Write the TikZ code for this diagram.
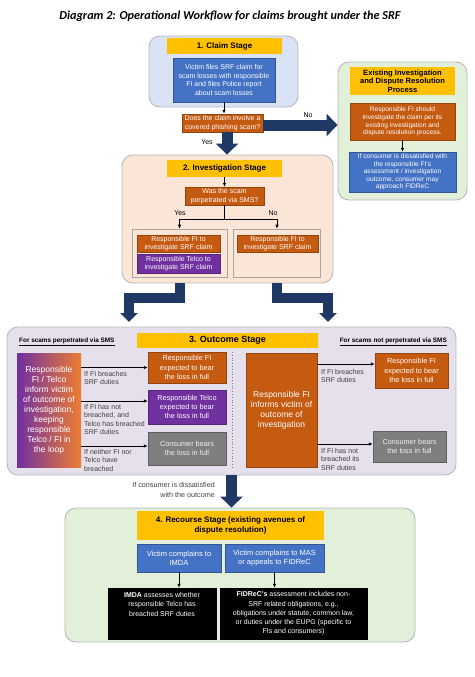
\documentclass[tikz,border=0pt]{standalone}
\usepackage{fontspec}
\setmainfont{Liberation Sans}
\newfontfamily\titlefont{Carlito}
\usetikzlibrary{arrows.meta}

\definecolor{fiblue}{HTML}{4472C4}
\definecolor{fiorange}{HTML}{C55A11}
\definecolor{telcopurple}{HTML}{7030A0}
\definecolor{lossgray}{HTML}{7F7F7F}
\definecolor{headyellow}{HTML}{FFC000}
\definecolor{navyarrow}{HTML}{1F3864}
\definecolor{claimbg}{HTML}{DAE3F3}
\definecolor{greenbg}{HTML}{E2F0D9}
\definecolor{peachbg}{HTML}{FBE5D6}
\definecolor{lilacbg}{HTML}{E5E0EC}
\definecolor{gradorange}{HTML}{ED7D31}
\definecolor{labelgray}{HTML}{404040}

\newcommand\fs[2]{\fontsize{#1}{#2}\selectfont}

\tikzset{
  wh/.style 2 args={minimum width=#1, minimum height=#2},
  stagebox/.style={draw=gray!55, line width=0.9pt, rounded corners=11pt, inner sep=0pt},
  headbox/.style={fill=headyellow, inner sep=1pt, align=center, font=\bfseries\fs{8}{8.8}},
  fillbox/.style={fill=#1, draw=#1!75!black, line width=0.5pt, inner sep=1pt, align=center, text=white, font=\fs{7}{8.5}},
  note/.style={align=left, anchor=north west, inner sep=0pt, text=labelgray, font=\fs{7}{8.4}},
  link/.style={-{Latex[length=4pt,width=3.5pt]}, line width=0.7pt},
  bigarrow/.style={navyarrow, line width=11pt, -{Triangle[width=22pt,length=11pt]}},
  elbowarrow/.style={navyarrow, line width=10pt, -{Triangle[width=17pt,length=9pt]}},
}

\begin{document}
\begin{tikzpicture}[x=1pt,y=-1pt]
  \useasboundingbox (0,0) rectangle (474,677);

  \node[font=\titlefont\bfseries\itshape\fs{12.2}{14}] (title) at (230,16)
    {Diagram 2: Operational Workflow for claims brought under the SRF};

  % stage containers
  \node[stagebox, fill=claimbg, wh={149}{71}] (claim) at (223.5,71.5) {};
  \node[stagebox, fill=greenbg, wh={129}{138}] (exist) at (402.5,131) {};
  \node[stagebox, fill=peachbg, wh={211}{128}] (invest) at (227.5,219) {};
  \node[stagebox, fill=lilacbg, wh={449}{148}] (outcome) at (231.5,401) {};
  \node[stagebox, fill=greenbg, wh={350}{134}] (recourse) at (240,575) {};

  % 1. claim stage
  \node[headbox, wh={115}{16}] (claimhead) at (224.5,46) {1. Claim Stage};
  \node[fillbox=fiblue, wh={102}{44}] (claimtxt) at (224,80)
    {Victim files SRF claim for\\scam losses with responsible\\FI and files Police report\\about scam losses};
  \node[fillbox=fiorange, wh={81}{18}] (q1) at (222.5,123)
    {Does the claim involve a\\covered phishing scam?};
  \draw[link] (claimtxt.south) -- (claimtxt.south |- q1.north);

  % existing process
  \node[headbox, font=\bfseries\fs{7.6}{8.5}, wh={105}{28}] (exhead) at (402.5,81)
    {Existing Investigation\\and Dispute Resolution\\Process};
  \node[fillbox=fiorange, font=\fs{6.6}{7.6}, wh={105}{37}] (exorange) at (402.5,121.5)
    {Responsible FI should\\investigate the claim per its\\existing investigation and\\dispute resolution process.};
  \node[fillbox=fiblue, font=\fs{6.6}{7.6}, wh={107}{40}] (exblue) at (402.5,172)
    {If consumer is dissatisfied with\\the responsible FI's\\assessment / investigation\\outcome, consumer may\\approach FIDReC};
  \draw[link] (exorange.south) -- (exblue.north);

  \draw[bigarrow] ([yshift=-2pt]q1.east) -- ([yshift=-2pt]q1.east -| exist.west);
  \node[font=\fs{7}{8}] (nolbl) at (308,115) {No};
  \draw[bigarrow] ([xshift=4.5pt]q1.south) -- ([xshift=4.5pt]q1.south |- invest.north);
  \node[font=\fs{7}{8}] (yeslbl) at (207,142) {Yes};

  % 2. investigation stage
  \node[headbox, wh={115}{17}] (invhead) at (224.5,168.5) {2. Investigation Stage};
  \node[fillbox=fiorange, wh={79}{18}] (q2) at (224.5,196)
    {Was the scam\\perpetrated via SMS?};
  \draw[link] (invhead.south) -- (q2.north);
  \node[draw=gray!70, line width=0.6pt, fill=peachbg, wh={95}{48}] (smsgrp) at (179.5,253) {};
  \node[draw=gray!70, line width=0.6pt, fill=peachbg, wh={87}{48}] (nosmsgrp) at (277,253) {};
  \node[fillbox=fiorange, inner sep=0.5pt, wh={83}{17}] (fil) at (178.5,243.5)
    {Responsible FI to\\investigate SRF claim};
  \node[fillbox=telcopurple, inner sep=0.5pt, wh={83}{19}] (telcol) at (178.5,263.5)
    {Responsible Telco to\\investigate SRF claim};
  \node[fillbox=fiorange, inner sep=0.5pt, wh={81}{17}] (fir) at (277.5,243.5)
    {Responsible FI to\\investigate SRF claim};
  \draw[line width=0.8pt] (q2.south) -- ++(0,14) coordinate (fork);
  \draw[link] (fork) -| (smsgrp.north);
  \draw[link] (fork) -| (nosmsgrp.north);
  \node[font=\fs{7}{8}] (smsyes) at (180,213) {Yes};
  \node[font=\fs{7}{8}] (smsno) at (273,213) {No};

  \coordinate (smsin) at (129,322);
  \coordinate (nosmsin) at (328,322);
  \draw[elbowarrow] (smsgrp.south |- invest.south) -- ++(0,15) -| (smsin);
  \draw[elbowarrow] (nosmsgrp.south |- invest.south) -- ++(0,15) -| (nosmsin);

  % 3. outcome stage
  \node[headbox, font=\bfseries\fs{9}{10}, wh={181}{15}] (outhead) at (227.5,340.5) {3. Outcome Stage};
  \node[anchor=west, inner sep=0pt, font=\bfseries\fs{6.4}{8}] (smsnote) at (19,342)
    {\underline{For scams perpetrated via SMS}};
  \node[anchor=east, inner sep=0pt, font=\bfseries\fs{6.4}{8}] (nosmsnote) at (447,342)
    {\underline{For scams not perpetrated via SMS}};

  \node[draw=none, left color=telcopurple, right color=gradorange, text=white, align=center,
        inner sep=0pt, font=\fs{8.5}{10}, wh={64}{114}] (gradbox) at (49,410)
    {Responsible\\FI / Telco\\inform victim\\of outcome of\\investigation,\\keeping\\responsible\\Telco / FI in\\the loop};
  \node[fillbox=fiorange, font=\fs{7.3}{9.3}, wh={78}{31}] (o1) at (187,367.5)
    {Responsible FI\\expected to bear\\the loss in full};
  \node[fillbox=telcopurple, font=\fs{7.3}{9.3}, wh={78}{34}] (o2) at (187,407)
    {Responsible Telco\\expected to bear\\the loss in full};
  \node[fillbox=lossgray, text=white!88!gray, font=\fs{7.3}{9.3}, wh={78}{33}] (o3) at (187,448.5)
    {Consumer bears\\the loss in full};
  \coordinate (a2) at ([yshift=6pt]o2.west);
  \coordinate (a3) at ([yshift=2.5pt]o3.west);
  \draw[link] (gradbox.east |- o1.west) -- (o1.west);
  \draw[link] (gradbox.east |- a2) -- (a2);
  \draw[link] (gradbox.east |- a3) -- (a3);
  \node[note] (n1) at (84,371) {If FI breaches\\SRF duties};
  \node[note] (n2) at (84,404) {If FI has not\\breached, and\\Telco has breached\\SRF duties};
  \node[note] (n3) at (84,449) {If neither FI nor\\Telco have\\breached};

  \draw[dotted, line width=0.8pt, gray] (232,352) -- (232,467);

  \node[fillbox=fiorange, font=\fs{8.5}{10}, wh={71}{114}] (fibox) at (281.5,410)
    {Responsible FI\\informs victim of\\outcome of\\investigation};
  \node[fillbox=fiorange, font=\fs{7.3}{9.3}, wh={73}{35}] (o4) at (411.5,370.5)
    {Responsible FI\\expected to bear\\the loss in full};
  \node[fillbox=lossgray, text=white!88!gray, font=\fs{7.3}{9.3}, wh={73}{31}] (o5) at (409.5,446.5)
    {Consumer bears\\the loss in full};
  \coordinate (a4) at ([yshift=6.5pt]o4.west);
  \coordinate (a5) at ([yshift=2.5pt]o5.west);
  \draw[link] (fibox.east |- a4) -- (a4);
  \draw[link] (fibox.east |- a5) -- (a5);
  \node[note] (n4) at (321,369) {If FI breaches\\SRF duties};
  \node[note] (n5) at (321,448) {If FI has not\\breached its\\SRF duties};

  \draw[bigarrow] (outcome.south) -- (outcome.south |- recourse.north);
  \node[anchor=east, align=right, inner sep=0pt, text=labelgray, font=\fs{7.2}{9.5}] (dissat) at (215,490)
    {If consumer is dissatisfied\\with the outcome};

  % 4. recourse stage
  \node[headbox, font=\bfseries\fs{8}{9.5}, wh={187}{29}] (rechead) at (230.5,525.5)
    {4. Recourse Stage (existing avenues of\\dispute resolution)};
  \node[fillbox=fiblue, font=\fs{7.5}{9}, wh={84}{28}] (imda) at (179,558)
    {Victim complains to\\IMDA};
  \node[fillbox=fiblue, font=\fs{7.5}{9}, wh={99}{28}] (mas) at (274.5,558)
    {Victim complains to MAS\\or appeals to FIDReC};
  \node[fillbox=black, font=\fs{7}{9.3}, wh={108}{51}] (imdares) at (162,613.5)
    {\textbf{IMDA} assesses whether\\responsible Telco has\\breached SRF duties\\\mbox{}\\\mbox{}};
  \node[fillbox=black, font=\fs{7}{9.3}, wh={147}{51}] (fidres) at (293.5,613.5)
    {\textbf{FIDReC's} assessment includes non-\\SRF related obligations, e.g.,\\obligations under statute, common law,\\or duties under the EUPG (specific to\\FIs and consumers)};
  \draw[link] (imda.south) -- (imda.south |- imdares.north);
  \draw[link] (mas.south) -- (mas.south |- fidres.north);
\end{tikzpicture}
\end{document}
